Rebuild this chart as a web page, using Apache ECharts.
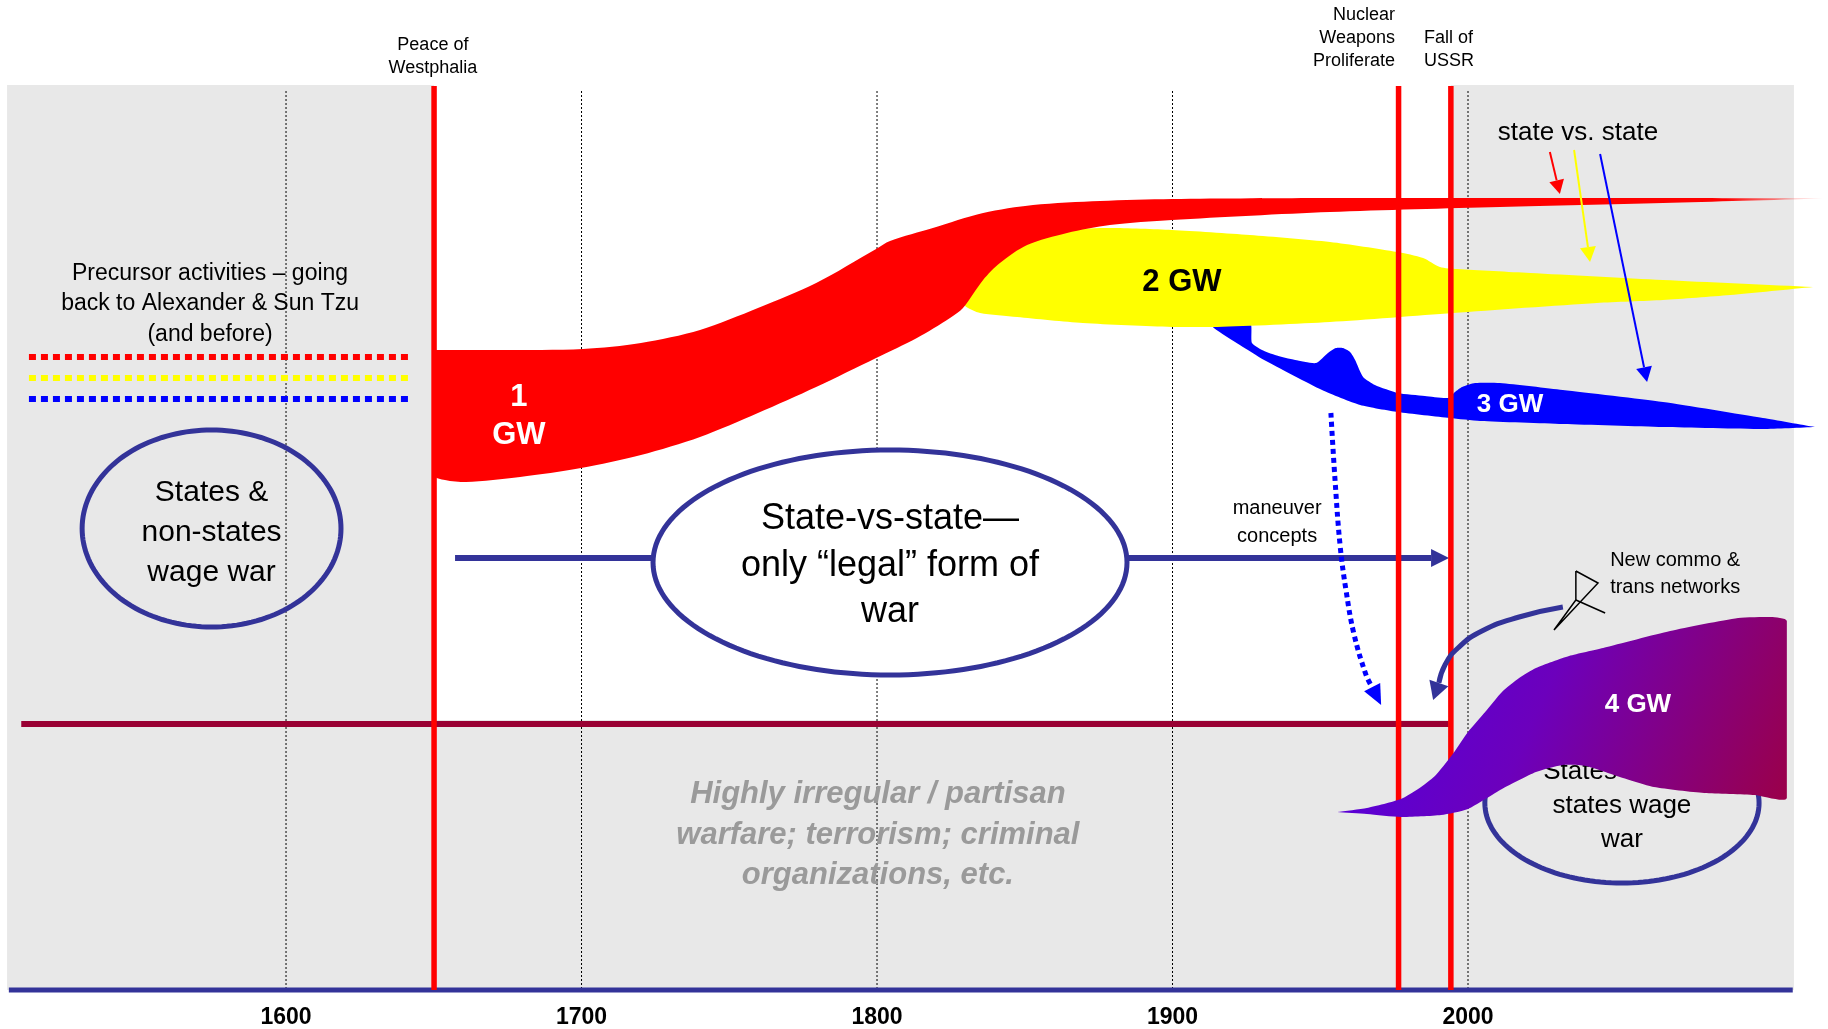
<!DOCTYPE html>
<html>
<head>
<meta charset="utf-8">
<script src="https://cdn.jsdelivr.net/npm/echarts@6/dist/echarts.min.js"></script>
<style>
html,body{margin:0;padding:0;background:#ffffff;}
#chart{width:1828px;height:1029px;}
</style>
</head>
<body>
<div id="chart"></div>
<script>
// ---------- data (x = year, y = level on a 0..905 scale) ----------
const tickYears = [1600, 1700, 1800, 1900, 2000];
const eventYears = [1650.1, 1976.5, 1994.2];
const eventLabels = ['Peace of\nWestphalia', 'Nuclear\nWeapons\nProliferate', 'Fall of\nUSSR'];

const gw1Upper = [[1650.1,634],[1650.1,640],[1651.5,640],[1672.4,640],[1700.5,641],[1720.1,647],[1740.1,660],[1759.7,682],[1779.4,707],[1799.7,741],[1804.4,749],[1818.9,762],[1835.9,777],[1852.8,785],[1875.5,789],[1899.8,791],[1953.3,792],[2010.8,792],[2066.0,792],[2120.2,791.5]];
const gw1Lower = [[1650.1,515],[1653.8,510],[1660.9,508],[1679.2,513],[1699.8,522],[1720.1,535],[1740.1,553],[1759.7,577],[1779.4,603],[1799.7,632],[1813.5,652],[1824.7,672],[1829.1,682],[1835.9,710],[1841.6,727],[1850.8,745],[1864.3,757],[1878.8,765],[1899.8,770],[1953.3,778],[2010.8,783],[2066.0,787],[2120.2,791.5]];

const gw2Upper = [[1829.8,690],[1836.5,715],[1841.6,732],[1851.8,750],[1864.3,760],[1878.8,762],[1899.8,760],[1926.2,755],[1953.3,748],[1976.0,738],[1984.8,732],[1990.5,723],[1996.3,721],[2021.0,717],[2066.0,710],[2116.8,703]];
const gw2Lower = [[1829.8,684],[1834.9,677],[1847.4,673],[1869.7,667],[1899.8,663],[1915.1,663],[1953.3,668],[1994.9,677],[2043.6,687],[2066.0,690],[2088.7,695],[2116.8,703]];

const gw3Upper = [[1926.2,668],[1926.9,647],[1930.3,640],[1934.7,635],[1941.5,630],[1948.6,627],[1952.6,637],[1955.3,642],[1957.7,642],[1960.1,638],[1961.8,630],[1964.5,613],[1968.5,605],[1976.3,597],[1985.4,594],[1993.2,592],[1995.6,598],[1998.0,603],[2002.4,607],[2010.8,607],[2032.1,600],[2066.0,588],[2099.8,572],[2117.4,563]];
const gw3Lower = [[1912.7,668],[1914.0,662],[1922.8,645],[1931.0,630],[1950.6,600],[1963.5,585],[1976.3,578],[1993.9,572],[2004.1,569],[2032.1,566],[2066.0,563],[2099.8,561],[2117.4,563]];

const gw4Upper = [[1955.7,178],[1965.8,182],[1977.3,191],[1983.1,201],[1988.8,214],[1994.6,235],[2000.0,258],[2005.8,278],[2011.5,298],[2017.3,312],[2023.0,322],[2034.2,334],[2045.7,342],[2068.4,359],[2091.4,372],[2102.5,373],[2107.9,369]];
const gw4Lower = [[1955.7,178],[1965.8,176],[1977.3,173],[1990.9,175],[2000.0,181],[2011.5,201],[2023.0,218],[2032.1,225],[2039.9,224],[2051.4,213],[2062.9,203],[2079.9,197],[2097.1,195],[2107.9,192]];

const gwLabels = ['1\nGW', '2 GW', '3 GW', '4 GW'];

// ---------- helpers ----------
const FONT = '"Liberation Sans", Arial, Helvetica, sans-serif';
const NAVY = '#333399';

function textEl(api, yr, lv, txt, o) {
  const p = api.coord([yr, lv]);
  return {type:'text', x:p[0], y:p[1], style:{
    text: txt, fill: o.color || '#000', fontSize: o.size, fontFamily: FONT,
    fontWeight: o.weight || 'normal', fontStyle: o.fstyle || 'normal',
    align: o.align || 'center', verticalAlign: 'middle',
    lineHeight: o.lh || Math.round(o.size * 1.2)
  }};
}
function lineEl(api, a, b, st) {
  const p = api.coord(a), q = api.coord(b);
  return {type:'line', shape:{x1:p[0], y1:p[1], x2:q[0], y2:q[1]}, style: Object.assign({fill:'none'}, st)};
}
function rectEl(api, a, b, fill) {
  const p = api.coord(a), q = api.coord(b);
  return {type:'rect', shape:{x:Math.min(p[0],q[0]), y:Math.min(p[1],q[1]), width:Math.abs(q[0]-p[0]), height:Math.abs(q[1]-p[1])}, style:{fill}};
}
function bandEl(api, upper, lower, fill, smooth) {
  const pts = upper.concat(lower.slice().reverse()).map(p => api.coord(p));
  let mn = [Infinity, Infinity], mx = [-Infinity, -Infinity];
  pts.forEach(p => { mn = [Math.min(mn[0], p[0]), Math.min(mn[1], p[1])]; mx = [Math.max(mx[0], p[0]), Math.max(mx[1], p[1])]; });
  return {type:'polygon', shape:{points:pts, smooth: smooth || 0, smoothConstraint: [mn, mx]}, style:{fill}};
}
function ellipseEl(api, c, r, st) {
  const cp = api.coord(c), s = api.size(r);
  const pts = [];
  for (let i = 0; i < 160; i++) { const a = i / 160 * Math.PI * 2; pts.push([cp[0] + s[0]*Math.cos(a), cp[1] + s[1]*Math.sin(a)]); }
  return {type:'polygon', shape:{points:pts}, style:st};
}
function arrowEls(api, pts, o) {
  const px = pts.map(p => api.coord(p));
  const tip = px[px.length-1], prev = px[px.length-2];
  const dx = tip[0]-prev[0], dy = tip[1]-prev[1], d = Math.hypot(dx, dy), ux = dx/d, uy = dy/d;
  const base = [tip[0]-ux*o.head, tip[1]-uy*o.head];
  const line = px.slice(0, -1).concat([base]);
  return [
    {type:'polyline', shape:{points:line, smooth:o.smooth || 0}, style:{stroke:o.color, lineWidth:o.width, fill:'none', lineDash:o.dash || null}},
    {type:'polygon', shape:{points:[tip, [base[0]-uy*o.half, base[1]+ux*o.half], [base[0]+uy*o.half, base[1]-ux*o.half]]}, style:{fill:o.color}}
  ];
}
function layer(renderFn) {
  return {type:'custom', coordinateSystem:'cartesian2d', data:[[1800, 0]], clip:false, silent:true, animation:false,
    renderItem: (params, api) => ({type:'group', children: renderFn(api)})};
}

// ---------- layers ----------
const bgLayer = layer(api => {
  const ch = [];
  ch.push(rectEl(api, [1505.6, 905], [2110.3, 0], '#e8e8e8'));
  ch.push(rectEl(api, [1650.1, 905], [1994.2, 270], '#ffffff'));
  tickYears.forEach(y => ch.push(lineEl(api, [y, 899], [y, 0], {stroke:'#000', lineWidth:1, lineDash:[2,2]})));
  ch.push(lineEl(api, [1513.0, 633], [1641.3, 633], {stroke:'#ff0000', lineWidth:6, lineDash:[7,5]}));
  ch.push(lineEl(api, [1513.0, 612], [1641.3, 612], {stroke:'#ffff00', lineWidth:6, lineDash:[7,5]}));
  ch.push(lineEl(api, [1513.0, 591], [1641.3, 591], {stroke:'#0000ff', lineWidth:6, lineDash:[7,5]}));
  ch.push(lineEl(api, [1510.4, 266], [1993.5, 266], {stroke:'#990033', lineWidth:6}));
  ch.push(lineEl(api, [1506.2, 0], [2109.9, 0], {stroke:NAVY, lineWidth:5}));
  return ch;
});

const ellipseLayer = layer(api => {
  const ch = [];
  arrowEls(api, [[1657.2, 432], [1993.6, 432]], {color:NAVY, width:6, head:18, half:9}).forEach(e => ch.push(e));
  ch.push(ellipseEl(api, [1574.8, 461.5], [43.8, 98.5], {fill:'none', stroke:NAVY, lineWidth:5}));
  ch.push(ellipseEl(api, [1804.4, 427.5], [80.2, 112.5], {fill:'#ffffff', stroke:NAVY, lineWidth:5}));
  ch.push(textEl(api, 1574.8, 457, 'States &\nnon-states\nwage war', {size:30, lh:40}));
  ch.push(textEl(api, 1804.4, 424, 'State-vs-state\u2014\nonly \u201clegal\u201d form of\nwar', {size:36, lh:46.5}));
  ch.push(textEl(api, 1574.3, 686, 'Precursor activities \u2013 going\nback to Alexander & Sun Tzu\n(and before)', {size:23, lh:30.5}));
  ch.push(textEl(api, 1800.3, 155, 'Highly irregular / partisan\nwarfare; terrorism; criminal\norganizations, etc.', {size:31, lh:40.5, weight:'bold', fstyle:'italic', color:'#9a9a9a'}));
  ch.push(textEl(api, 1935.4, 468, 'maneuver\nconcepts', {size:20, lh:28}));
  return ch;
});

const gw3Layer = layer(api => [bandEl(api, gw3Upper, gw3Lower, '#0000ff', 0.2)]);
const gw2Layer = layer(api => [bandEl(api, gw2Upper, gw2Lower, '#ffff00', 0.25)]);
const gw1Layer = layer(api => [bandEl(api, gw1Upper, gw1Lower,
  new echarts.graphic.LinearGradient(0, 0, 1, 0, [
    {offset:0, color:'#ff0000'}, {offset:0.93, color:'#ff0000'}, {offset:1, color:'rgba(255,90,90,0.25)'}]), 0.3)]);

const eventLayer = layer(api => {
  const ch = [];
  eventYears.forEach(y => ch.push(lineEl(api, [y, 904], [y, 0], {stroke:'#ff0000', lineWidth:5.5})));
  ch.push(textEl(api, 1649.7, 933.5, eventLabels[0], {size:18, lh:23}));
  ch.push(textEl(api, 1975.3, 952, eventLabels[1], {size:18, lh:23, align:'right'}));
  ch.push(textEl(api, 1985.1, 940, eventLabels[2], {size:18, lh:23, align:'left'}));
  return ch;
});

const gw4Layer = layer(api => {
  const ch = [];
  ch.push(ellipseEl(api, [2052.1, 187], [46.4, 80], {fill:'none', stroke:NAVY, lineWidth:5}));
  ch.push(textEl(api, 2052.1, 184, 'States & non-\nstates wage\nwar', {size:26, lh:34}));
  ch.push(bandEl(api, gw4Upper, gw4Lower, new echarts.graphic.LinearGradient(0, 0, 1, 1, [
    {offset:0, color:'#4e00e4'}, {offset:0.45, color:'#6c00bc'}, {offset:1, color:'#9c0046'}]), 0.2));
  return ch;
});

const labelLayer = layer(api => {
  const ch = [];
  ch.push(textEl(api, 1678.8, 574, gwLabels[0], {size:31, lh:38, weight:'bold', color:'#ffffff'}));
  ch.push(textEl(api, 1903.2, 708, gwLabels[1], {size:31, weight:'bold', color:'#000000'}));
  ch.push(textEl(api, 2014.2, 585, gwLabels[2], {size:26, weight:'bold', color:'#ffffff'}));
  ch.push(textEl(api, 2057.5, 285, gwLabels[3], {size:26, weight:'bold', color:'#ffffff'}));
  ch.push(textEl(api, 2037.2, 857, 'state vs. state', {size:26}));
  ch.push(textEl(api, 2048.1, 416.5, 'New commo &\ntrans networks', {size:20, lh:27, align:'left'}));
  arrowEls(api, [[2027.7, 838], [2031.1, 796]], {color:'#ff0000', width:2, head:14, half:7.5}).forEach(e => ch.push(e));
  arrowEls(api, [[2035.9, 840], [2041.3, 728]], {color:'#ffff00', width:2, head:15, half:8}).forEach(e => ch.push(e));
  arrowEls(api, [[2044.7, 836], [2060.6, 608]], {color:'#0000ff', width:2, head:15, half:8}).forEach(e => ch.push(e));
  arrowEls(api, [[1953.6, 577], [1955.0, 510], [1956.7, 445], [1958.7, 400], [1961.4, 356], [1965.5, 315], [1970.6, 285]],
    {color:'#0000ff', width:5, head:20, half:9, dash:[5,4], smooth:0.4}).forEach(e => ch.push(e));
  arrowEls(api, [[2032.1, 383], [2017.3, 373], [2004.7, 359], [1996.6, 342], [1992.2, 325], [1988.2, 290]],
    {color:NAVY, width:5, head:18, half:10, smooth:0.5}).forEach(e => ch.push(e));
  const sym = [[2036.5, 419], [2044.0, 407], [2029.1, 360], [2036.5, 390], [2036.5, 419]].map(p => api.coord(p));
  ch.push({type:'polyline', shape:{points:sym}, style:{stroke:'#000', lineWidth:1.5, fill:'none'}});
  ch.push(lineEl(api, [2036.5, 390], [2046.4, 377], {stroke:'#000', lineWidth:1.5}));
  return ch;
});

const chart = echarts.init(document.getElementById('chart'), null, {renderer:'canvas'});
chart.setOption({
  animation: false,
  backgroundColor: '#ffffff',
  grid: {left: 5.3, right: 5.4, top: 85, bottom: 39},
  xAxis: {
    type: 'value', min: 1505, max: 2120,
    axisLine: {show: false}, axisTick: {show: false}, splitLine: {show: false},
    axisLabel: {customValues: tickYears, formatter: v => String(v), fontSize: 23, fontWeight: 'bold', color: '#000', fontFamily: FONT, margin: 16}
  },
  yAxis: {type: 'value', min: 0, max: 905, show: false},
  series: [bgLayer, ellipseLayer, gw3Layer, gw2Layer, gw1Layer, eventLayer, gw4Layer, labelLayer]
});
</script>
</body>
</html>
